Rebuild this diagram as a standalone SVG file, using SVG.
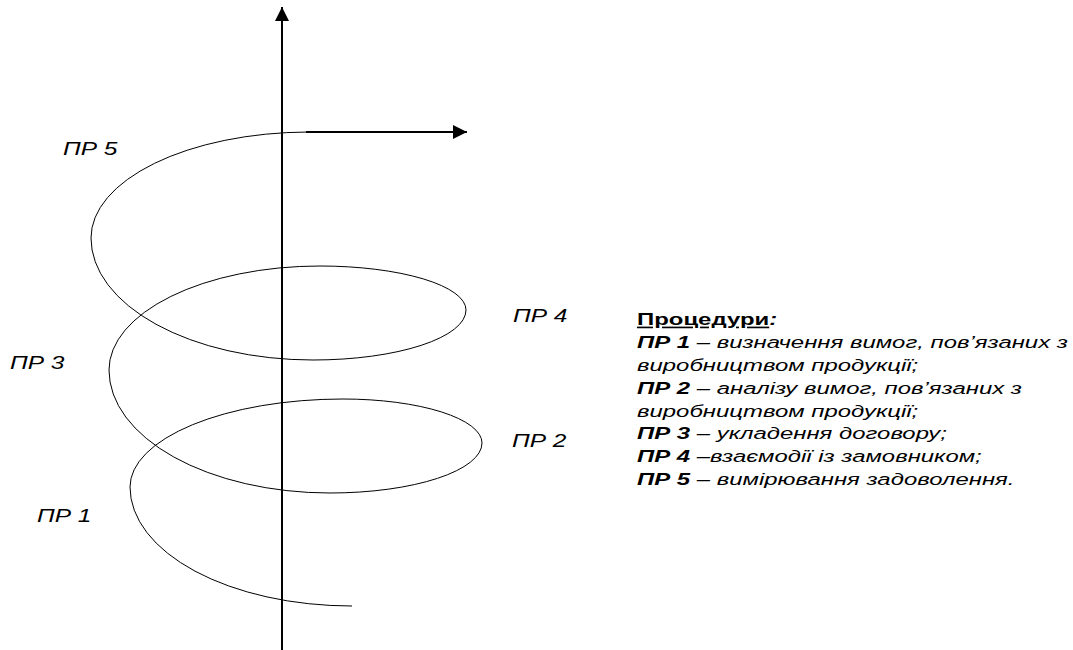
<svg xmlns="http://www.w3.org/2000/svg" width="1073" height="650" viewBox="0 0 1073 650">
<style>
.lbl{font-family:"Liberation Sans",Arial,sans-serif;font-size:18px;font-style:italic;fill:#000}
.leg{font-family:"Liberation Sans",Arial,sans-serif;font-size:16.5px;font-style:italic;fill:#000}
.b{font-weight:bold}
.axis{stroke:#000;stroke-width:2;fill:none}
.spiral{stroke:#000;stroke-width:1;fill:none}
</style>
<defs>
<marker id="ah" viewBox="0 0 10 10" refX="10" refY="5" markerWidth="7" markerHeight="7" orient="auto" markerUnits="strokeWidth">
<path d="M0,0 L10,5 L0,10 z" fill="#000"/>
</marker>
</defs>
<g id="connectors">
<path id="vaxis" class="axis" d="M282,650 L282,7" marker-end="url(#ah)"/>
<path id="spiral" class="spiral" d="M352,606 A222,119 0 0 1 130,487 A213,88 0 0 1 343,399 A139,44 0 0 1 482,443 A152,50 0 0 1 330,493 A221,123 0 0 1 109,370 A211,104 0 0 1 320,266 A146,44 0 0 1 466,310 A153,50 0 0 1 313,360 A222,122 0 0 1 91,238 A219,106 0 0 1 308,132"/>
<path id="harrow" class="axis" d="M306,132 L467,132" marker-end="url(#ah)"/>
</g>
<g id="label-pr5"><text class="lbl" transform="translate(63,155) scale(1.36,1)">ПР 5</text></g>
<g id="label-pr4"><text class="lbl" transform="translate(513,322) scale(1.36,1)">ПР 4</text></g>
<g id="label-pr3"><text class="lbl" transform="translate(10,369) scale(1.36,1)">ПР 3</text></g>
<g id="label-pr2"><text class="lbl" transform="translate(512,447) scale(1.36,1)">ПР 2</text></g>
<g id="label-pr1"><text class="lbl" transform="translate(37,522) scale(1.36,1)">ПР 1</text></g>
<g id="legend">
<text class="leg" transform="translate(637,325) scale(1.45,1)"><tspan class="b" style="font-style:normal;text-decoration:underline">Процедури</tspan><tspan class="b">:</tspan></text>
<text class="leg" transform="translate(637,348) scale(1.45,1)"><tspan class="b">ПР 1</tspan> – визначення вимог, пов’язаних з</text>
<text class="leg" transform="translate(637,371) scale(1.45,1)">виробництвом продукції;</text>
<text class="leg" transform="translate(637,394) scale(1.45,1)"><tspan class="b">ПР 2</tspan> – аналізу вимог, пов’язаних з</text>
<text class="leg" transform="translate(637,417) scale(1.45,1)">виробництвом продукції;</text>
<text class="leg" transform="translate(637,439) scale(1.45,1)"><tspan class="b">ПР 3</tspan> – укладення договору;</text>
<text class="leg" transform="translate(637,462) scale(1.45,1)"><tspan class="b">ПР 4</tspan> –взаємодії із замовником;</text>
<text class="leg" transform="translate(637,485) scale(1.45,1)"><tspan class="b">ПР 5</tspan> – вимірювання задоволення.</text>
</g>
</svg>
